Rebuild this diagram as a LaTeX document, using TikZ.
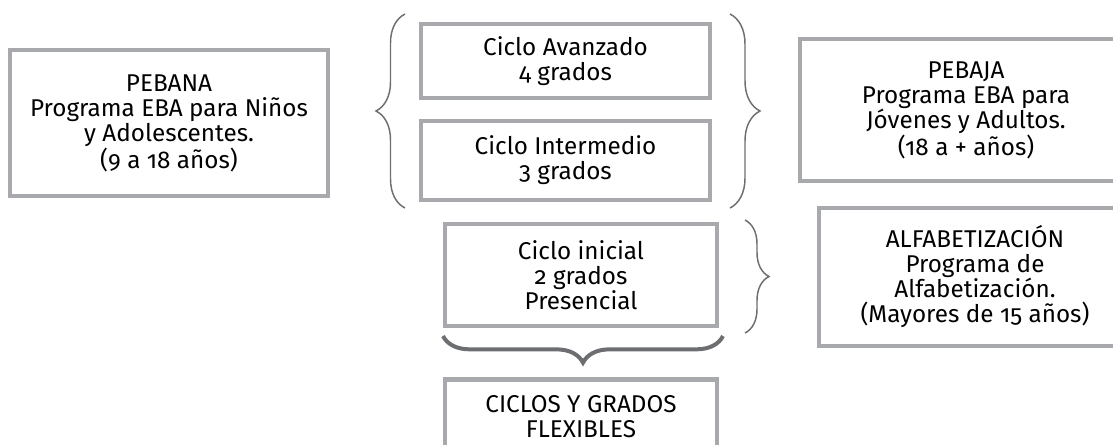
\documentclass[tikz,border=0pt]{standalone}
\usepackage{fontspec}
\setmainfont{Fira Sans}[Numbers=OldStyle]
\usepackage{tikz}
\usetikzlibrary{decorations.pathreplacing}
\definecolor{grisborde}{RGB}{167,169,172}
\definecolor{grisllave}{RGB}{109,110,113}

\begin{document}
\begin{tikzpicture}[x=0.75pt,y=-0.75pt,
   caja/.style={draw=grisborde, line width=3.4pt, align=center, inner sep=0pt,
                font=\fontsize{18.2}{18.75}\selectfont},
   llave/.style={draw=grisllave, line width=1.1pt, decorate,
                 decoration={brace, amplitude=#1}}]
   \clip (0,0) rectangle (1113,444);
   % cajas
   \node[caja, minimum width=318*0.75pt, minimum height=146*0.75pt] (pebana) at (169,123)
        {PEBANA\\Programa EBA para Niños\\y Adolescentes.\\(9 a 18 años)};
   \node[caja, minimum width=289*0.75pt, minimum height=74*0.75pt] (avanzado) at (565.5,61)
        {Ciclo Avanzado\\4 grados};
   \node[caja, minimum width=289*0.75pt, minimum height=79*0.75pt] (intermedio) at (565.5,160.5)
        {Ciclo Intermedio\\3 grados};
   \node[caja, minimum width=272*0.75pt, minimum height=102*0.75pt] (inicial) at (581,275)
        {Ciclo inicial\\2 grados\\Presencial};
   \node[caja, minimum width=272*0.75pt, minimum height=75*0.75pt] (flexibles) at (581,417)
        {CICLOS Y GRADOS\\FLEXIBLES};
   \node[caja, minimum width=332*0.75pt, minimum height=142*0.75pt] (pebaja) at (966,110)
        {PEBAJA\\Programa EBA para\\Jóvenes y Adultos.\\(18 a + años)};
   \node[caja, minimum width=312*0.75pt, minimum height=138*0.75pt] (alfa) at (975,277)
        {ALFABETIZACIÓN\\Programa de\\Alfabetización.\\(Mayores de 15 años)};
   % llaves
   \coordinate (li1) at (405,208);
   \coordinate (li2) at (405,14);
   \coordinate (ld1) at (730,14);
   \coordinate (ld2) at (730,208);
   \coordinate (lc1) at (745,220);
   \coordinate (lc2) at (745,333);
   \coordinate (lb1) at (723,336);
   \coordinate (lb2) at (443,336);
   \draw[llave=21.75pt] (li1) -- (li2);
   \draw[llave=22.5pt] (ld1) -- (ld2);
   \draw[llave=18pt] (lc1) -- (lc2);
   \draw[llave=20pt, line width=3pt] (lb1) -- (lb2);
\end{tikzpicture}
\end{document}
